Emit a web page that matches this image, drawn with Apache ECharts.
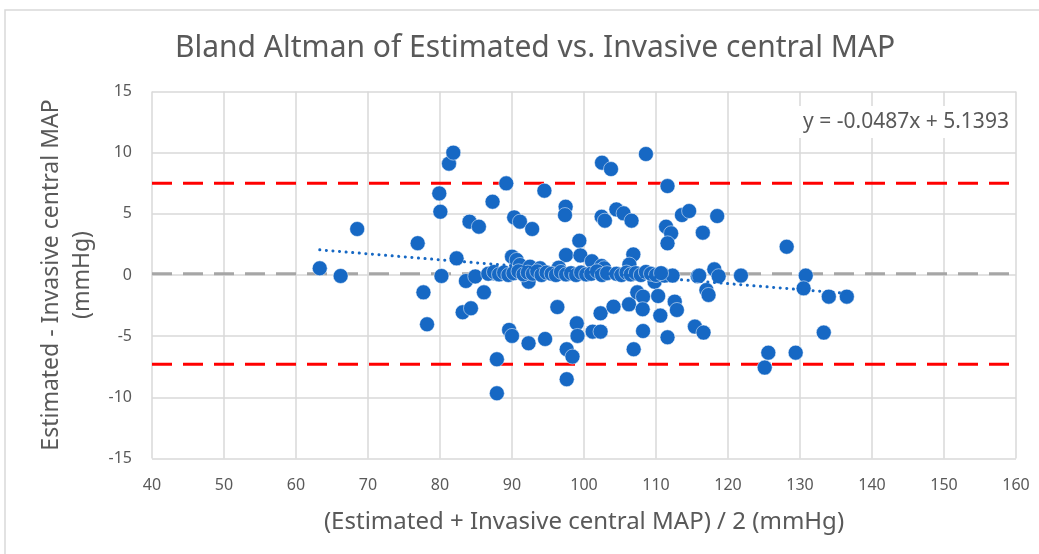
<!DOCTYPE html>
<html>
<head>
<meta charset="utf-8">
<script src="https://cdn.jsdelivr.net/npm/echarts@6/dist/echarts.min.js"></script>
<style>
html,body{margin:0;padding:0;background:#fff;}
#chart{width:1039px;height:554px;}
</style>
</head>
<body>
<div id="chart"></div>
<script>
// Mean of the two methods (x) and their difference (y)
const meanValues = [
  63.3, 66.2, 68.5, 76.9, 77.7, 78.2, 79.9, 80.05, 80.2, 81.25, 81.85, 82.3, 83.15, 83.6, 84.1, 84.3, 84.9, 85.4, 86.1, 87.3,
  87.4, 87.9, 87.9, 89.2, 89.6, 90.0, 90.3, 91.1, 92.3, 92.8, 92.3, 94.5, 94.6, 96.3, 97.45, 97.36, 97.6, 98.4, 97.6, 99.0,
  99.1, 99.35, 97.5, 99.5, 101.1, 90.0, 90.65, 91.1, 92.5, 93.9, 96.5, 101.2, 102.3, 102.5, 103.75, 102.45, 102.9, 104.5, 105.5, 106.6,
  108.6, 111.6, 102.3, 104.1, 102.45, 102.8, 106.25, 106.85, 106.3, 107.4, 108.2, 108.15, 109.8, 110.3, 110.6, 108.2, 106.9, 111.6, 112.6, 112.9,
  111.4, 112.1, 111.6, 113.6, 114.6, 118.5, 116.5, 128.15, 115.8, 118.1, 118.7, 121.8, 130.8, 130.5, 134.0, 136.5, 117.0, 117.3, 115.4, 116.6,
  125.6, 125.1, 129.4, 133.3, 111.2, 112.3, 116.0,
  86.7, 87.5, 88.2, 88.9, 89.5, 90.2, 90.9, 91.6, 92.2, 92.9, 93.5, 94.1, 94.8, 95.5, 96.1, 96.8, 97.5, 98.2, 98.9, 99.6,
  100.3, 101.0, 101.8, 102.5, 103.2, 104.5, 105.2, 105.9, 106.5, 107.2, 107.9, 108.6, 109.3, 110.0, 110.7
];
const diffValues = [
  0.55, -0.08, 3.76, 2.6, -1.42, -4.03, 6.67, 5.17, -0.08, 9.1, 10.0, 1.36, -3.05, -0.49, 4.36, -2.72, -0.12, 3.95, -1.42, 5.99,
  0.14, -6.89, -9.67, 7.49, -4.49, -4.98, 4.71, 4.36, -5.58, 3.76, -0.55, 6.89, -5.23, -2.62, 5.58, 4.9, -6.07, -6.67, -8.52, -3.95,
  -4.98, 2.8, 1.63, 1.6, 1.12, 1.5, 1.23, 0.82, 0.68, 0.55, 0.6, -4.63, -4.63, 9.18, 8.66, 4.76, 4.44, 5.36, 5.04, 4.44,
  9.89, 7.27, -3.13, -2.59, 0.74, 0.55, -2.4, 1.68, 0.85, -1.42, -1.77, -2.8, -0.55, -1.72, -3.32, -4.58, -6.07, -5.09, -2.18, -2.86,
  3.95, 3.41, 2.59, 4.9, 5.23, 4.82, 3.46, 2.31, -0.1, 0.46, -0.1, -0.05, -0.05, -1.09, -1.77, -1.77, -1.23, -1.63, -4.22, -4.71,
  -6.35, -7.57, -6.35, -4.71, -0.05, -0.05, -0.05,
  0.1, 0.25, 0.05, 0.2, 0.0, 0.15, 0.3, 0.05, 0.2, 0.1, 0.3, 0.0, 0.2, 0.1, 0.0, 0.25, 0.05, 0.15, 0.0, 0.2,
  0.05, 0.1, 0.3, 0.0, 0.15, 0.1, 0.0, 0.2, 0.05, 0.15, 0.0, 0.25, 0.1, 0.0, 0.15
];
// Bias and limits of agreement
const meanBias = 0.1;
const upperLimit = 7.5;
const lowerLimit = -7.3;
// Trendline from the equation label
const trendSlope = -0.0487;
const trendIntercept = 5.1393;
const trendLabel = 'y = -0.0487x + 5.1393';
// Axis ranges
const xRange = [40, 160, 10];
const yRange = [-15, 15, 5];

const points = meanValues.map((m, i) => [m, diffValues[i]]);
const xMin = Math.min(...meanValues), xMax = Math.max(...meanValues);
const trendData = [[xMin, trendSlope * xMin + trendIntercept], [xMax, trendSlope * xMax + trendIntercept]];

const chart = echarts.init(document.getElementById('chart'));
const txt = '#595959';
const font = 'Noto Sans';
chart.setOption({
  backgroundColor: '#ffffff',
  animation: false,
  title: {
    text: 'Bland Altman of Estimated vs. Invasive central MAP',
    left: 170, top: 28,
    textStyle: { fontFamily: font, fontSize: 30, fontWeight: 'normal', color: txt }
  },
  grid: { left: 152, right: 23, top: 91.5, bottom: 95.5 },
  xAxis: {
    type: 'value', min: xRange[0], max: xRange[1], interval: xRange[2],
    name: '(Estimated + Invasive central MAP) / 2 (mmHg)',
    nameLocation: 'middle', nameGap: 52,
    nameTextStyle: { fontFamily: font, fontSize: 24, color: txt },
    axisLine: { show: false }, axisTick: { show: false },
    axisLabel: { fontFamily: font, fontSize: 16, color: txt, margin: 19 },
    splitLine: { show: true, lineStyle: { color: '#d9d9d9', width: 1.5 } }
  },
  yAxis: {
    type: 'value', min: yRange[0], max: yRange[1], interval: yRange[2],
    name: 'Estimated - Invasive central MAP\n(mmHg)',
    nameLocation: 'middle', nameGap: 49, nameRotate: 90,
    nameTextStyle: { fontFamily: font, fontSize: 23, color: txt, lineHeight: 31 },
    axisLine: { show: false }, axisTick: { show: false },
    axisLabel: { fontFamily: font, fontSize: 16, color: txt, margin: 20 },
    splitLine: { show: true, lineStyle: { color: '#d9d9d9', width: 1.5 } }
  },
  series: [
    {
      type: 'line', data: [[xRange[0], meanBias], [xRange[1], meanBias]],
      symbol: 'none', z: 1, silent: true,
      lineStyle: { color: '#a6a6a6', width: 3, type: [20, 11] }
    },
    {
      type: 'line', data: [[xRange[0], upperLimit], [xRange[1], upperLimit]],
      symbol: 'none', z: 1, silent: true,
      lineStyle: { color: '#ff0000', width: 3, type: [20, 11] }
    },
    {
      type: 'line', data: [[xRange[0], lowerLimit], [xRange[1], lowerLimit]],
      symbol: 'none', z: 1, silent: true,
      lineStyle: { color: '#ff0000', width: 3, type: [20, 11] }
    },
    {
      type: 'scatter', data: points, symbolSize: 15, z: 3,
      itemStyle: { color: '#1668c4', borderColor: 'rgba(255,255,255,0.5)', borderWidth: 1, opacity: 1 }
    },
    {
      type: 'line', data: trendData, symbol: 'none', z: 4, silent: true,
      lineStyle: { color: '#1668c4', width: 3, type: [0.1, 6.5], cap: 'round' }
    }
  ],
  graphic: [
    {
      type: 'rect', z: 0, silent: true,
      shape: { x: 5, y: 10, width: 1100, height: 600 },
      style: { fill: 'none', stroke: '#d9d9d9', lineWidth: 1.5 }
    },
    {
      type: 'rect', z: 10, silent: true,
      shape: { x: 799, y: 106, width: 214, height: 32 },
      style: { fill: '#ffffff' }
    },
    {
      type: 'text', z: 11, silent: true,
      x: 906, y: 122,
      style: { text: trendLabel, fontFamily: font, fontSize: 21, fill: txt, align: 'center', verticalAlign: 'middle' }
    }
  ]
});
</script>
</body>
</html>
